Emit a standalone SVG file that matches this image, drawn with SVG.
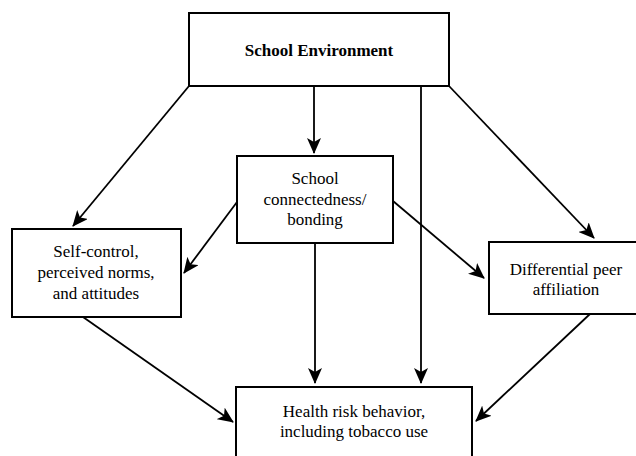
<svg xmlns="http://www.w3.org/2000/svg" width="636" height="456" viewBox="0 0 636 456">
<style>
.box{fill:#fff;stroke:#000;stroke-width:2}
.t{font-family:'Liberation Serif','Times New Roman','DejaVu Serif',serif;font-size:17px;text-anchor:middle;fill:#000}
.b{font-weight:bold}
.c{stroke:#000;stroke-width:1.8;fill:none;marker-end:url(#ah)}
</style>
<defs>
<marker id="ah" markerUnits="userSpaceOnUse" markerWidth="16" markerHeight="14" viewBox="0 0 16 14" refX="15" refY="7" orient="auto">
<path d="M0,0 L16,7 L0,14 L4,7 Z" fill="#000"/>
</marker>
</defs>
<rect width="636" height="456" fill="#fff"/>
<g id="connectors">
<line class="c" x1="189" y1="86" x2="73" y2="226"/>
<line class="c" x1="314" y1="86" x2="314" y2="153"/>
<line class="c" x1="421" y1="86" x2="421" y2="383"/>
<line class="c" x1="449" y1="86" x2="594" y2="238"/>
<line class="c" x1="237" y1="202" x2="184" y2="273"/>
<line class="c" x1="393" y1="201" x2="484" y2="278"/>
<line class="c" x1="315" y1="243" x2="315" y2="383"/>
<line class="c" x1="83" y1="317" x2="233" y2="422"/>
<line class="c" x1="590" y1="314" x2="476" y2="421"/>
</g>
<g id="school-environment">
<rect class="box" x="189" y="13" width="260" height="73"/>
<text class="t b" x="319" y="56">School Environment</text>
</g>
<g id="school-connectedness">
<rect class="box" x="237" y="156" width="156" height="87"/>
<text class="t" x="315" y="184">School</text>
<text class="t" x="315" y="205">connectedness/</text>
<text class="t" x="315" y="225">bonding</text>
</g>
<g id="self-control">
<rect class="box" x="12" y="229" width="169" height="88"/>
<text class="t" x="96" y="257">Self-control,</text>
<text class="t" x="96" y="278">perceived norms,</text>
<text class="t" x="96" y="299">and attitudes</text>
</g>
<g id="peer-affiliation">
<rect class="box" x="489" y="242" width="154" height="72"/>
<text class="t" x="566" y="275">Differential peer</text>
<text class="t" x="566" y="295">affiliation</text>
</g>
<g id="health-risk">
<rect class="box" x="236" y="387" width="236" height="80"/>
<text class="t" x="354" y="417">Health risk behavior,</text>
<text class="t" x="354" y="437">including tobacco use</text>
</g>
</svg>
